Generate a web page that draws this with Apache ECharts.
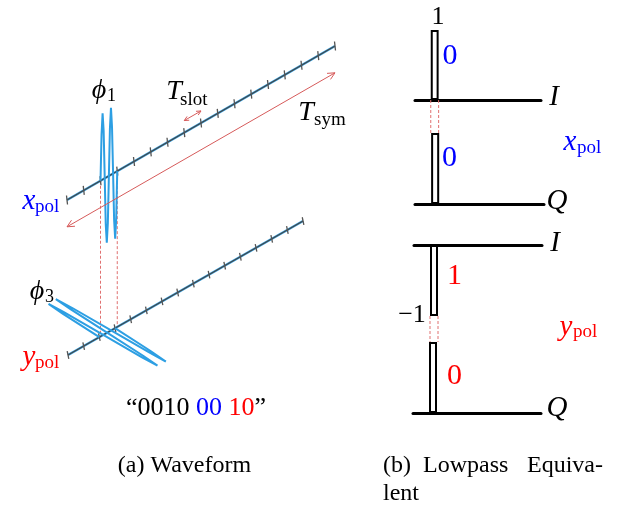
<!DOCTYPE html>
<html><head><meta charset="utf-8">
<script src="https://cdn.jsdelivr.net/npm/echarts@6/dist/echarts.min.js"></script>
<style>html,body{margin:0;padding:0;background:#fff}#c{width:618px;height:511px}</style>
</head><body><div id="c"></div>
<script>
// ---------------- data ----------------
const upperTickCount = 17;          // ticks on the x_pol time axis
const lowerTickCount = 16;          // ticks on the y_pol time axis
const pulseSlot = 2;                // slot holding the symbol pulse
// waveform samples across one slot
const xpolWave = [0, 0.68, 0.99, 0.72, 0.03, -0.69, -0.98, -0.7, 0, 0.7, 1.0, 0.7, 0.02, -0.7, -0.99, -0.7, 0];
const ypolWave = [0, -0.7, -0.99, -0.72, 0, 0.7, 0.98, 0.7, 0.02, -0.7, -1.0, -0.7, 0, 0.68, 0.99, 0.7, 0];
// lowpass-equivalent panels: x_pol I, x_pol Q, y_pol I, y_pol Q
const iqSlots = ['0','1','2','3','4','5','6','7','8','9','10','11','12','13','14','15'];
const iqPanelValues = [1, 1, -1, 1];
const iqPanelBits = ['0', '0', '1', '0'];
const iqAxisNames = ['I', 'Q', 'I', 'Q'];
const bitString = ['0010', '00', '10'];

// ---------------- style / layout ----------------
const SERIF = '"Liberation Serif","DejaVu Serif","Times New Roman",serif';
const BLUE = '#0000ff', RED = '#ff0000';
const bitColors = [BLUE, BLUE, RED, RED];
const U = {o:[67,200], s:[16.75,-9.625], a:[0,-67]};     // x_pol 3D projection
const L = {o:[68,355], s:[15.67,-8.93], a:[53.3,32.5]};  // y_pol 3D projection
function P(G,t,a){return [G.o[0]+t*G.s[0]+a*G.a[0], G.o[1]+t*G.s[1]+a*G.a[1]];}
function seg(a,b){return {coords:[a,b]};}
function lines(id, data, style, z){
  return {type:'lines', id:id, coordinateSystem:'cartesian2d', xAxisIndex:4, yAxisIndex:4,
    polyline:true, silent:true, animation:false, z:z||3, data:data,
    lineStyle:Object.assign({opacity:1, curveness:0}, style)};
}
function chevron(tip, from, len){
  const dx=from[0]-tip[0], dy=from[1]-tip[1], n=Math.hypot(dx,dy);
  const ux=dx/n, uy=dy/n, out=[];
  [0.45,-0.45].forEach(function(r){
    const c=Math.cos(r), s=Math.sin(r);
    out.push([tip[0]+len*(ux*c-uy*s), tip[1]+len*(ux*s+uy*c)]);
  });
  return {coords:[out[0], tip, out[1]]};
}

// ---------------- marks ----------------
const uEnd = upperTickCount-1, lEnd = lowerTickCount-1;
const axisSegs = [seg(P(U,0,0),P(U,uEnd,0)), seg(P(L,0,0),P(L,lEnd,0))];
const tickSegs = [];
for (let i=0;i<upperTickCount;i++){const c=P(U,i,0); tickSegs.push(seg([c[0]-0.5,c[1]-4.5],[c[0]+0.5,c[1]+4.5]));}
for (let i=0;i<lowerTickCount;i++){const c=P(L,i,0); tickSegs.push(seg([c[0]-0.8,c[1]-3.8],[c[0]+0.8,c[1]+3.8]));}
const waves = [
  {coords: xpolWave.map((a,k)=>P(U, pulseSlot + k/(xpolWave.length-1), a))},
  {coords: ypolWave.map((a,k)=>P(L, pulseSlot + k/(ypolWave.length-1), a))}
];
const dashLeft = [pulseSlot, pulseSlot+1].map(function(k){
  const top=P(U,k,0); const t=(top[0]-L.o[0])/L.s[0];
  return seg(top, [top[0], L.o[1]+t*L.s[1]]);
});
const symA=P(U,0,-0.4), symB=P(U,uEnd,-0.4);
const slotA=P(U,7,0.18), slotB=P(U,8,0.18);
const redArrows = [seg(symA,symB), chevron(symA,symB,8), chevron(symB,symA,8),
                   seg(slotA,slotB), chevron(slotA,slotB,5), chevron(slotB,slotA,5)];

// ---------------- right panel grids ----------------
const gridBoxes = [
  {left:415, top:30,  width:126, height:70},
  {left:415, top:133, width:129, height:71},
  {left:414, top:245, width:128, height:71},
  {left:413, top:342, width:128, height:71}
];
const grids = gridBoxes.concat([{left:0, top:0, width:618, height:511}]);
const xAxes = iqPanelValues.map(function(v,i){
  return {gridIndex:i, type:'category', data:iqSlots, boundaryGap:true,
    position: v<0 ? 'top' : 'bottom',
    axisLine:{onZero:false, lineStyle:{color:'#000', width:3}},
    axisTick:{show:false}, axisLabel:{show:false}, splitLine:{show:false}};
}).concat([{gridIndex:4, type:'value', min:0, max:618, show:false}]);
const yAxes = iqPanelValues.map(function(v,i){
  return {gridIndex:i, type:'value', min:Math.min(0,v), max:Math.max(0,v), show:false};
}).concat([{gridIndex:4, type:'value', min:0, max:511, inverse:true, show:false}]);
const barSeries = iqPanelValues.map(function(v,i){
  return {type:'bar', xAxisIndex:i, yAxisIndex:i, silent:true, animation:false,
    barWidth:'100%', barCategoryGap:'0%',
    data: iqSlots.map((_,k)=> k===pulseSlot ? v : '-'),
    itemStyle:{color:'#fff', borderColor:'#000', borderWidth:2}, z:4};
});

// ---------------- texts ----------------
function T(x,y,text,font,fill,align){
  return {type:'text', silent:true, z:100,
    style:{x:x, y:y, text:text, font:font, fill:fill||'#000', align:align||'center', verticalAlign:'middle'}};
}
const it = s => 'italic '+s+'px '+SERIF;
const rm = s => s+'px '+SERIF;
const texts = [
  T(99,91,'\u03D5',it(28)), T(107,96,'1',rm(18),'#000','left'),
  T(174,92,'T',it(28)), T(180,100,'slot',rm(19),'#000','left'),
  T(306,113,'T',it(28)), T(314,120,'sym',rm(19),'#000','left'),
  T(29,201,'x',it(29),BLUE), T(35,207,'pol',rm(19),BLUE,'left'),
  T(37,292,'\u03D5',it(28)), T(45,297,'3',rm(18),'#000','left'),
  T(29,357,'y',it(29),RED), T(35,363,'pol',rm(19),RED,'left'),
  {type:'text', silent:true, z:100, style:{x:196, y:408, align:'center', verticalAlign:'middle',
    text:'{k|\u201C'+bitString[0]+' }{b|'+bitString[1]+'}{k| }{r|'+bitString[2]+'}{k|\u201D}',
    rich:{k:{font:rm(26), fill:'#000'}, b:{font:rm(26), fill:BLUE}, r:{font:rm(26), fill:RED}}}},
  T(184.5,466,'(a) Waveform',rm(24)),
  T(383,466,'(b)',rm(24),'#000','left'), T(423,466,'Lowpass',rm(24),'#000','left'),
  T(603,466,'Equiva-',rm(24),'#000','right'), T(383,494,'lent',rm(24),'#000','left'),
  // right panel
  T(438,17,'1',rm(26)), T(412,315,'\u22121',rm(26)),
  T(570,142,'x',it(29),BLUE), T(577,148,'pol',rm(19),BLUE,'left'),
  T(566,327,'y',it(29),RED), T(573,332,'pol',rm(19),RED,'left')
];
const bitPos = [[450,56],[449.5,158.5],[454.5,276.5],[454.5,376]];
iqPanelBits.forEach((b,i)=>texts.push(T(bitPos[i][0],bitPos[i][1],b,rm(30),bitColors[i])));
const namePos = [[554,97],[557,201],[555,243],[557,408]];
iqAxisNames.forEach((n,i)=>texts.push(T(namePos[i][0],namePos[i][1],n,it(29))));

const chart = echarts.init(document.getElementById('c'));
chart.setOption({
  animation:false,
  grid:grids, xAxis:xAxes, yAxis:yAxes,
  graphic:{elements:texts},
  series: barSeries.concat([
    lines('axisBlue', axisSegs, {color:'#35a0e0', width:2.4}, 3),
    lines('axisGray', axisSegs, {color:'#444', width:1.1}, 4),
    lines('ticks', tickSegs, {color:'#555', width:1.3}, 5),
    lines('dashL', dashLeft, {color:'#e07070', width:1, type:[3,2]}, 2),
    lines('waves', waves, {color:'#2d9fe3', width:2}, 6),
    lines('redArrows', redArrows, {color:'#d65a5a', width:1}, 6),
    lines('iqDash', [], {color:'#e07070', width:1, type:[3,2]}, 2)
  ])
});
// dashed links between I and Q pulses, placed from the bar grids' own scales
function edges(gi, val){
  const c = chart.convertToPixel({gridIndex:gi}, [pulseSlot, val]);
  const c2 = chart.convertToPixel({gridIndex:gi}, [pulseSlot+1, val]);
  const w = c2[0]-c[0];
  return {l:c[0]-w/2, r:c[0]+w/2, y:c[1]};
}
const dashIQ = [];
[[0,1],[2,3]].forEach(function(pair){
  const a = edges(pair[0], iqPanelValues[pair[0]] < 0 ? iqPanelValues[pair[0]] : 0);
  const b = edges(pair[1], iqPanelValues[pair[1]]);
  dashIQ.push(seg([a.l,a.y],[a.l,b.y]), seg([a.r,a.y],[a.r,b.y]));
});
chart.setOption({series:[{id:'iqDash', data:dashIQ}]});
</script></body></html>
